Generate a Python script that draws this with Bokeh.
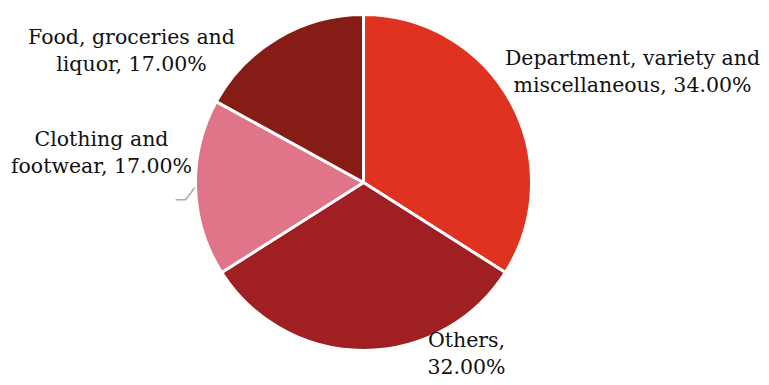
import math
from bokeh.plotting import figure
from bokeh.models import Range1d, ColumnDataSource
from bokeh.core.properties import value
from bokeh.embed import file_html
from bokeh.resources import INLINE

# ---- data ----
categories = ["Department, variety and miscellaneous", "Others",
              "Clothing and footwear", "Food, groceries and liquor"]
shares = [34.0, 32.0, 17.0, 17.0]
colors = ["#E03220", "#A01F22", "#E07589", "#861C16"]
wrap_words = [3, 1, 2, 3]  # words on the first label line

# ---- layout (image pixel coords, y down) ----
W, H = 761, 377
CX, CY_IMG, R = 363, 182, 168
label_x = [632, 466, 101, 131]
label_y1_img = [57, 339, 138, 36]
LINE_GAP = 27
FONT = value("DejaVu Serif")
FSIZE = "20.5px"

def ydata(y_img):
    return H - y_img

p = figure(width=W, height=H, output_backend="svg", toolbar_location=None,
           x_range=Range1d(0, W), y_range=Range1d(0, H),
           min_border=0)
p.axis.visible = False
p.grid.visible = False
p.outline_line_color = None
p.background_fill_color = "white"
p.border_fill_color = "white"

total = sum(shares)
starts, ends, mids = [], [], []
cum = 0.0
for s in shares:
    a0 = math.pi / 2 - 2 * math.pi * cum / total
    cum += s
    a1 = math.pi / 2 - 2 * math.pi * cum / total
    starts.append(a0)
    ends.append(a1)
    mids.append((a0 + a1) / 2)

src = ColumnDataSource(dict(start=starts, end=ends, color=colors))
p.wedge(x=CX, y=ydata(CY_IMG), radius=R, radius_units="screen",
        start_angle="start", end_angle="end", direction="clock",
        fill_color="color", line_color="white", line_width=3, source=src)

# labels
l1, l2 = [], []
for cat, s, n in zip(categories, shares, wrap_words):
    words = f"{cat}, {s:.2f}%".split(" ")
    l1.append(" ".join(words[:n]))
    l2.append(" ".join(words[n:]))

ys1 = [ydata(y) for y in label_y1_img]
ys2 = [ydata(y + LINE_GAP) for y in label_y1_img]
p.text(x=label_x, y=ys1, text=l1, text_font=FONT, text_font_size=FSIZE,
       text_align="center", text_baseline="alphabetic", text_color="#111111")
p.text(x=label_x, y=ys2, text=l2, text_font=FONT, text_font_size=FSIZE,
       text_align="center", text_baseline="alphabetic", text_color="#111111")

# connector for the Clothing label
i = 2
ex = CX + (R + 1) * math.cos(mids[i])
ey = ydata(CY_IMG) + (R + 1) * math.sin(mids[i])
p.line(x=[ex, ex - 9, ex - 19], y=[ey, ey - 12, ey - 12],
       line_color="#AAAAAA", line_width=1.5)

open("out.html", "w").write(file_html(p, INLINE))
